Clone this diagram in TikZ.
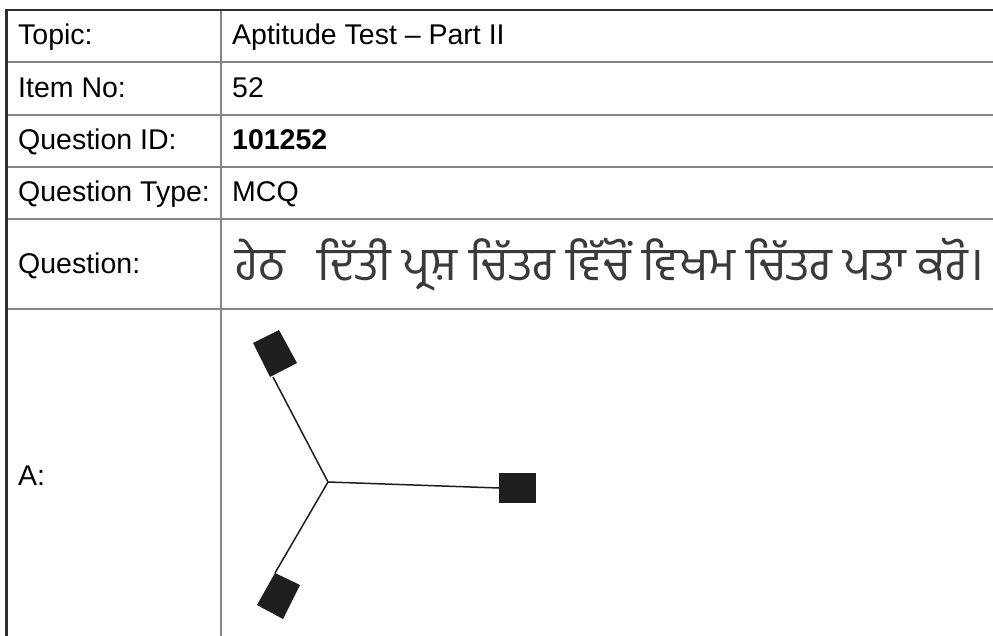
\documentclass[tikz,border=0pt]{standalone}
\usepackage{fontspec}
\setmainfont{Liberation Sans}
\newfontfamily\gurfont[Script=Gurmukhi]{Hind Jalandhar}
\definecolor{gridgray}{HTML}{858585}
\definecolor{outerdark}{HTML}{2E2E2E}
\definecolor{figblack}{HTML}{1E1E1E}
\definecolor{gurtext}{HTML}{3A3A3A}
\tikzset{
  gridline/.style={draw=gridgray, line width=2pt},
  outerline/.style={draw=outerdark, line width=2.2pt},
  lbl/.style={anchor=base west, inner sep=0pt, font=\fontsize{28.5}{34}\selectfont, text=black},
  arm/.style={draw=figblack, line width=1.5pt},
  blk/.style={fill=figblack},
}
\begin{document}
\begin{tikzpicture}[x=1pt,y=-1pt]
\useasboundingbox (0,0) rectangle (993,636);
\fill[white] (0,0) rectangle (993,636);
% grid
\foreach \yy in {62,115,167,219,309} \draw[gridline] (6,\yy) -- (993,\yy);
\draw[gridline] (221,10) -- (221,636);
\draw[outerline] (993,10) -- (6.5,10) -- (6.5,636);
% labels
\node[lbl] (l1) at (18,44.5) {Topic:};
\node[lbl] (l2) at (18,97.5) {Item No:};
\node[lbl] (l3) at (18,150) {Question ID:};
\node[lbl] (l4) at (18,202) {Question Type:};
\node[lbl] (l5) at (18,273.5) {Question:};
\node[lbl] (l6) at (18,485) {A:};
% values
\node[lbl] (v1) at (232,44.5) {Aptitude Test – Part II};
\node[lbl] (v2) at (232,97.5) {52};
\node[lbl,font=\fontsize{28.5}{34}\selectfont\bfseries] (v3) at (232,150) {101252};
\node[lbl] (v4) at (232,202) {MCQ};
\node[anchor=base west, inner sep=0pt, text=gurtext] (v5) at (235,280)
  {\resizebox{749pt}{!}{\gurfont\fontsize{30}{36}\selectfont ਹੇਠ\hspace{0.45em} ਦਿੱਤੀ ਪ੍ਰਸ਼ ਚਿੱਤਰ ਵਿੱਚੋਂ ਵਿਖਮ ਚਿੱਤਰ ਪਤਾ ਕਰੋ।}};
% figure
\coordinate (c) at (328,482);
\coordinate (t) at (273,377);
\coordinate (r) at (499,488);
\coordinate (b) at (275,573);
\draw[arm] (c) -- (t);
\draw[arm] (c) -- (r);
\draw[arm] (c) -- (b);
\fill[blk] (253,343) -- (279,330) -- (297,363) -- (270,377) -- cycle;
\fill[blk] (499,473) rectangle (536,503);
\fill[blk] (275,573) -- (300,585) -- (283,619) -- (257,605) -- cycle;
\end{tikzpicture}
\end{document}
